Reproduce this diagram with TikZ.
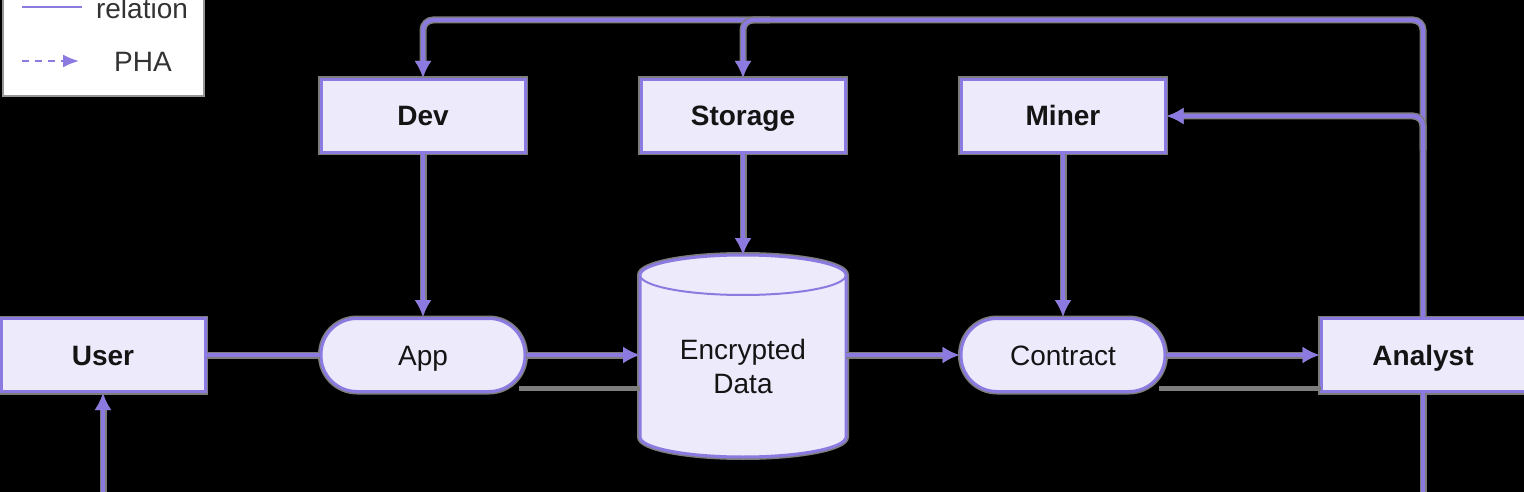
\documentclass[tikz,border=0pt]{standalone}
\usepackage{fontspec}
\setmainfont{Liberation Sans}
\usetikzlibrary{arrows.meta,calc}
\definecolor{purp}{RGB}{140,122,224}
\definecolor{fillc}{RGB}{236,234,251}
\definecolor{halo}{RGB}{125,125,125}
\definecolor{legborder}{RGB}{150,150,150}
\definecolor{txt}{RGB}{20,20,20}
\tikzset{
  box/.style={draw=purp, line width=3pt, fill=fillc, minimum width=204pt, minimum height=73pt,
    inner sep=0pt, text=txt, text height=24pt, text depth=4pt,
    font=\fontsize{28}{34}\selectfont\bfseries,
    preaction={draw=halo, line width=6pt}},
  pill/.style={box, rounded corners=36pt, font=\fontsize{28}{34}\selectfont},
  edge/.style={draw=purp, line width=4pt, preaction={draw=halo, line width=7pt}},
  grayedge/.style={draw=halo, line width=5pt},
  tip/.style={-{Latex[length=17pt,width=17pt]}},
}
\begin{document}
\begin{tikzpicture}[x=1pt,y=-1pt]
\useasboundingbox (0,0) rectangle (1524,492);
\fill[black] (0,0) rectangle (1524,492);
\clip (0,0) rectangle (1524,492);

% legend
\draw[fill=white, draw=legborder, line width=2pt] (3,-20) rectangle (204,96);
\draw[purp, line width=2pt] (22,7) coordinate (l1a) -- (82,7) coordinate (l1b);
\node[anchor=base, text=black!80, font=\fontsize{28}{34}\selectfont] (lrel) at (142,19) {relation};
\coordinate (l2a) at (22,61);
\coordinate (l2b) at (79,61);
\draw[purp, line width=2pt, dash pattern=on 7pt off 6pt, -{Latex[length=16pt,width=13pt]}] (l2a) -- (l2b);
\node[anchor=base, text=black!80, font=\fontsize{28}{34}\selectfont] (lpha) at (143,72) {PHA};

% nodes
\node[box] (dev) at (423,116) {Dev};
\node[box] (storage) at (743,116) {Storage};
\node[box] (miner) at (1063,116) {Miner};
\node[box] (user) at (103,355) {User};
\node[pill] (app) at (423,355) {App};
\node[pill] (contract) at (1063,355) {Contract};
\node[box] (analyst) at (1423,355) {Analyst};

% cylinder
\path[draw=halo, line width=6pt]
  (640,275) -- (640,437) arc[start angle=180,end angle=360,x radius=103pt,y radius=20pt]
  -- (846,275) arc[start angle=0,end angle=180,x radius=103pt,y radius=20pt] -- cycle;
\path[draw=purp, line width=3pt, fill=fillc]
  (640,275) -- (640,437) arc[start angle=180,end angle=360,x radius=103pt,y radius=20pt]
  -- (846,275) arc[start angle=0,end angle=180,x radius=103pt,y radius=20pt] -- cycle;
\draw[purp, line width=2pt] (640,275) arc[start angle=180,end angle=360,x radius=103pt,y radius=20pt];
\node[minimum width=206pt, minimum height=202pt, inner sep=0pt, align=center, text=txt,
  font=\fontsize{28}{34}\selectfont] (enc) at (743,366) {Encrypted\\Data};
\coordinate (enctop) at (743,255);
\coordinate (encw) at (640,355);
\coordinate (ence) at (846,355);

% helper coordinates
\coordinate (top) at (0,20);
\coordinate (ubot) at (103,500);
\coordinate (abot) at (1423,500);
\coordinate (minerturn) at (1423,150);
\coordinate (storturn) at (770,20);

% top loop
\draw[edge, tip, rounded corners=10pt] (analyst.north) -- (analyst.north |- top) -- (dev.north |- top) -- (dev.north);
\draw[edge, tip, rounded corners=10pt] (storturn) -- (storage.north |- top) -- (storage.north);
\draw[edge, tip, rounded corners=10pt] (minerturn) -- (minerturn |- miner.east) -- (miner.east);

% verticals
\draw[edge, tip] (dev.south) -- (app.north);
\draw[edge, tip] (storage.south) -- (enctop);
\draw[edge, tip] (miner.south) -- (contract.north);
\draw[edge, tip] (ubot) -- (user.south);
\draw[edge] (analyst.south) -- (abot);

% horizontals
\draw[edge] (user.east) -- (app.west);
\draw[edge, tip] (app.east) -- (encw);
\draw[edge, tip] (ence) -- (contract.west);
\draw[edge, tip] (contract.east) -- (analyst.west);

% gray lines
\coordinate (g1a) at (519,388);
\coordinate (g1b) at (640,388);
\coordinate (g2a) at (1159,388);
\coordinate (g2b) at (1321,388);
\draw[grayedge] (g1a) -- (g1b);
\draw[grayedge] (g2a) -- (g2b);
\end{tikzpicture}
\end{document}
